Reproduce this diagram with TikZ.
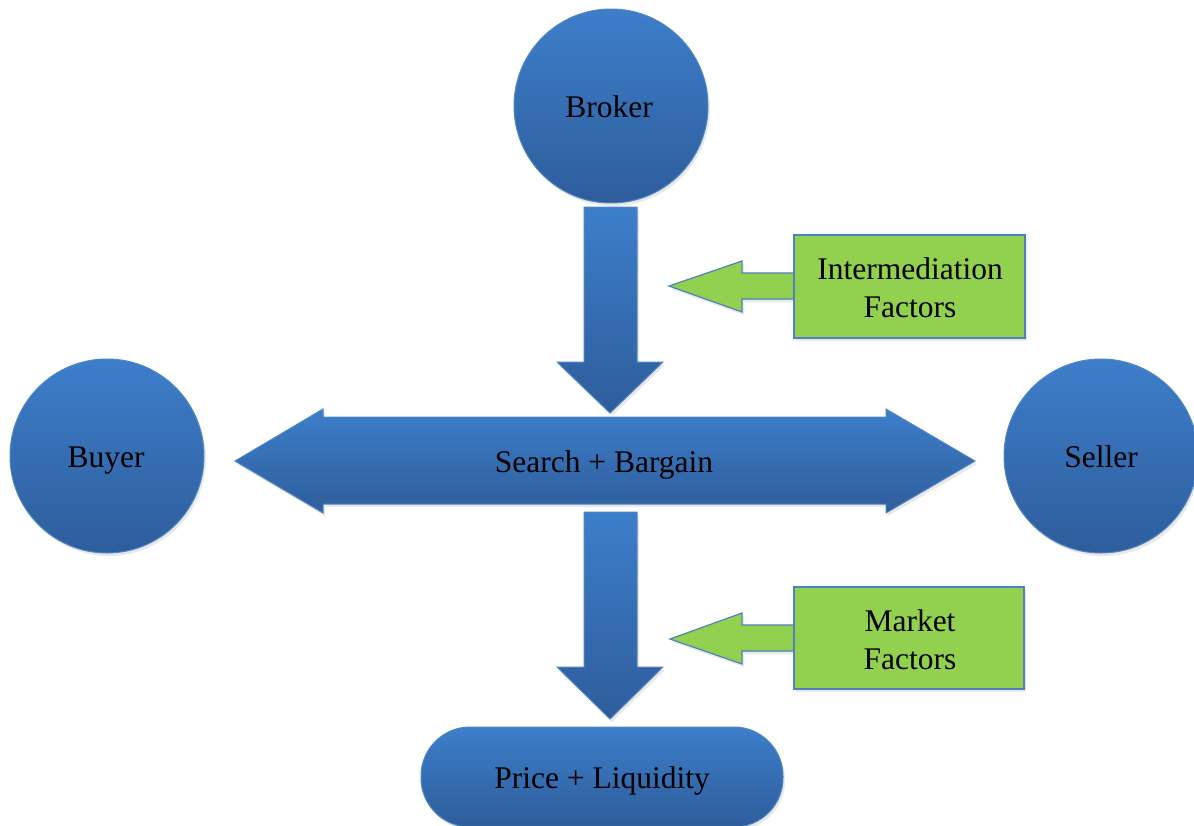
\documentclass[tikz,border=0pt]{standalone}
\usepackage{fontspec}
\setmainfont{Liberation Serif}
\usetikzlibrary{shadows}
\definecolor{bluetop}{HTML}{3D7ECA}
\definecolor{bluebot}{HTML}{2E5D9B}
\definecolor{blueline}{HTML}{4F86C6}
\definecolor{greenfill}{HTML}{92D050}
\definecolor{greenline}{HTML}{4F81BD}
\tikzset{
  txtbase/.style={font=\fontsize{31.5}{38}\selectfont, text=black, align=center},
  txt/.style={txtbase, text height=24pt, text depth=2pt, inner sep=0pt},
  txttwo/.style={txtbase},
  bluesh/.style={top color=bluetop, bottom color=bluebot, draw=blueline, line width=1pt,
     drop shadow={shadow xshift=2pt, shadow yshift=-3pt, opacity=0.18}},
  circ/.style={circle, bluesh, minimum size=194pt, inner sep=0pt},
  greenbox/.style={fill=greenfill, draw=greenline, line width=1.2pt,
     drop shadow={shadow xshift=2pt, shadow yshift=-3pt, opacity=0.18}},
}
\begin{document}
\begin{tikzpicture}[x=1pt,y=-1pt]
\useasboundingbox (0,0) rectangle (1194,825);
% circles
\node[circ] (broker) at (611,106) {};
\node[txt] (brokert) at (609,106) {Broker};
\node[circ] (buyer) at (107,456) {};
\node[txt] (buyert) at (106,456) {Buyer};
\node[circ] (seller) at (1101,456) {};
\node[txt] (sellert) at (1101,456) {Seller};
% down arrow 1
\path[bluesh] (584,207) -- (637,207) -- (637,362) -- (663,362) -- (610,413) -- (557,362) -- (584,362) -- cycle;
% double arrow
\path[bluesh] (235,461) -- (323,409) -- (323,417) -- (886,417) -- (886,409) -- (975,461) -- (886,513) -- (886,504) -- (323,504) -- (323,513) -- cycle;
\node[txt] (search) at (604,461) {Search + Bargain};
% down arrow 2
\path[bluesh] (584,512) -- (637,512) -- (637,667) -- (663,667) -- (610,719) -- (557,667) -- (584,667) -- cycle;
% price
\path[bluesh, rounded corners=49pt] (421,727) rectangle (783,827);
\node[txt] (price) at (602,777) {Price + Liquidity};
% intermediation factors
\path[greenbox] (795,273) -- (742,273) -- (742,261) -- (669,286) -- (742,312) -- (742,299) -- (795,299) -- cycle;
\path[greenbox] (794,235) rectangle (1025,338);
\node[txttwo] (inter) at (910,288) {Intermediation\\Factors};
% market factors
\path[greenbox] (795,625) -- (742,625) -- (742,613) -- (670,639) -- (742,664) -- (742,651) -- (795,651) -- cycle;
\path[greenbox] (794,587) rectangle (1024,689);
\node[txttwo] (market) at (910,640) {Market\\Factors};
\end{tikzpicture}
\end{document}
